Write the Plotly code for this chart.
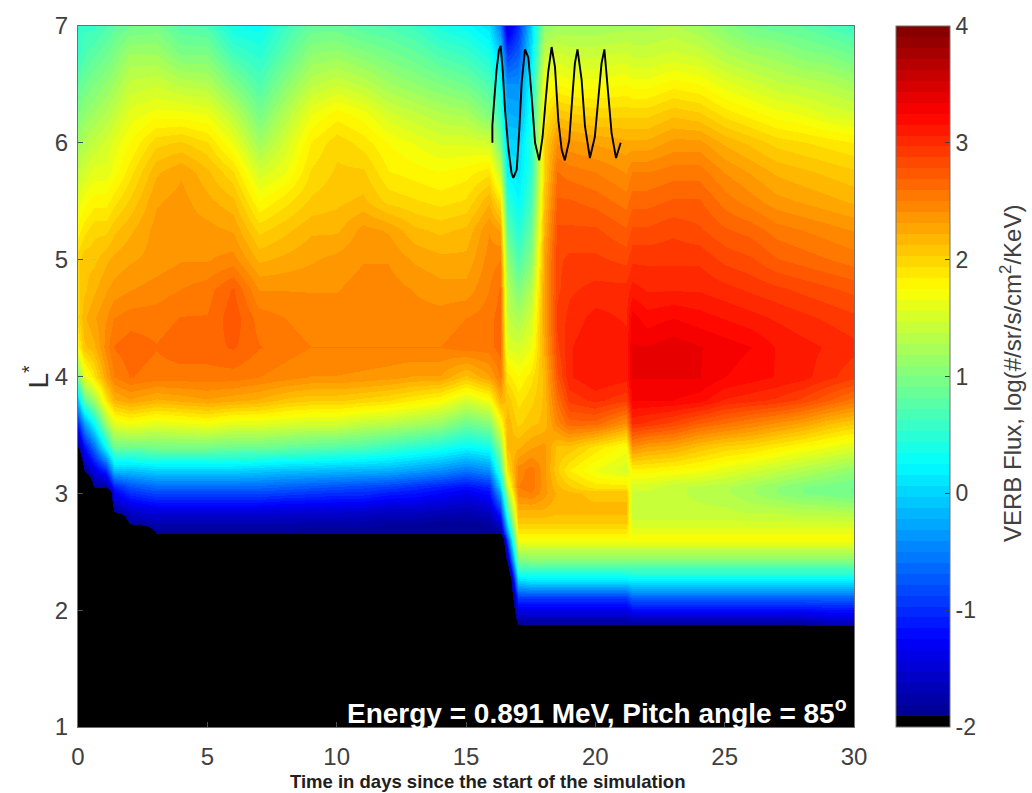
import plotly.graph_objects as go

N = -3.0  # no data (drawn black)
L_STAR = [1.0,1.8,1.88,1.95,2.1,2.25,2.42,2.6,2.66,2.75,2.85,3.0,3.05,3.2,
          3.4,3.6,3.8,4.0,4.25,4.5,4.75,5.0,5.25,5.5,5.75,6.0,6.25,6.5,6.75,7.0]

FLUX_BY_DAY = {
 0.0:  [N,N,N,N,N,N,N,N,N,N,N,N,N,N, -1.9,-1.0,0.0,1.0,1.8,2.0,2.0,2.0,1.8,1.6,1.4,1.2,1.0,0.8,0.6,0.5],
 0.25: [N,N,N,N,N,N,N,N,N,N,N,N,N,-1.88, -1.2,-0.3,0.8,1.6,2.1,2.2,2.1,2.1,1.9,1.7,1.5,1.3,1.1,0.9,0.7,0.6],
 0.6:  [N,N,N,N,N,N,N,N,N,N,N,N,-1.85,-1.4, -0.6,0.3,1.2,1.9,2.2,2.3,2.2,2.1,2.0,1.8,1.6,1.4,1.2,1.0,0.8,0.6],
 1.1:  [N,N,N,N,N,N,N,N,N,N,N,N,-1.85,-1.0, 0.3,1.2,1.9,2.3,2.45,2.4,2.3,2.2,2.0,1.8,1.6,1.5,1.3,1.1,0.9,0.7],
 1.4:  [N,N,N,N,N,N,N,N,N,N,-1.85,-1.3,-1.1,-0.1, 0.9,1.6,2.2,2.5,2.6,2.5,2.35,2.25,2.1,1.9,1.7,1.6,1.4,1.2,1.0,0.8],
 2.0:  [N,N,N,N,N,N,N,N,N,-1.8,-1.55,-1.0,-0.8,-0.1, 0.9,1.7,2.3,2.6,2.65,2.55,2.4,2.3,2.2,2.05,1.9,1.75,1.6,1.4,1.2,0.9],
 3.0:  [N,N,N,N,N,N,N,N,-1.9,-1.7,-1.45,-0.85,-0.65,0.0, 0.95,1.6,2.2,2.55,2.6,2.55,2.45,2.35,2.35,2.3,2.2,2.0,1.7,1.45,1.2,0.95],
 4.0:  [N,N,N,N,N,N,N,N,-1.9,-1.7,-1.45,-0.85,-0.65,0.0, 0.95,1.65,2.25,2.55,2.65,2.6,2.5,2.4,2.35,2.35,2.3,2.05,1.7,1.35,1.0,0.75],
 5.0:  [N,N,N,N,N,N,N,N,-1.9,-1.7,-1.45,-0.85,-0.65,0.0, 0.95,1.7,2.3,2.55,2.65,2.6,2.55,2.4,2.35,2.25,2.15,1.95,1.65,1.3,1.0,0.7],
 6.0:  [N,N,N,N,N,N,N,N,-1.9,-1.7,-1.45,-0.85,-0.65,0.0, 0.9,1.6,2.25,2.55,2.7,2.75,2.7,2.45,2.3,2.15,1.95,1.65,1.35,1.0,0.65,0.35],
 7.0:  [N,N,N,N,N,N,N,N,-1.9,-1.7,-1.45,-0.85,-0.65,-0.05, 0.9,1.6,2.2,2.5,2.6,2.55,2.4,2.2,2.0,1.75,1.5,1.2,0.95,0.7,0.5,0.3],
 8.0:  [N,N,N,N,N,N,N,N,-1.9,-1.7,-1.5,-0.9,-0.7,-0.1, 0.85,1.55,2.1,2.45,2.55,2.5,2.4,2.25,2.1,1.9,1.65,1.5,1.3,1.05,0.8,0.6],
 9.0:  [N,N,N,N,N,N,N,N,-1.9,-1.75,-1.5,-0.95,-0.75,-0.12, 0.8,1.5,2.05,2.4,2.5,2.45,2.4,2.3,2.2,2.05,1.95,1.85,1.65,1.35,1.1,0.85],
 10.0: [N,N,N,N,N,N,N,N,-1.9,-1.75,-1.5,-1.0,-0.8,-0.15, 0.75,1.5,2.05,2.4,2.5,2.45,2.4,2.35,2.2,2.1,2.05,2.0,1.8,1.45,1.15,0.85],
 11.0: [N,N,N,N,N,N,N,N,-1.9,-1.75,-1.55,-1.0,-0.85,-0.18, 0.7,1.4,2.0,2.38,2.5,2.45,2.45,2.4,2.35,2.15,2.05,1.9,1.7,1.35,1.05,0.75],
 12.0: [N,N,N,N,N,N,N,N,-1.9,-1.8,-1.6,-1.1,-0.9,-0.2, 0.6,1.35,1.95,2.35,2.5,2.45,2.45,2.4,2.3,2.0,1.85,1.75,1.5,1.2,0.95,0.7],
 13.0: [N,N,N,N,N,N,N,N,-1.9,-1.8,-1.6,-1.15,-1.0,-0.3, 0.5,1.25,1.85,2.3,2.5,2.45,2.4,2.3,2.15,1.95,1.8,1.65,1.4,1.1,0.85,0.6],
 14.0: [N,N,N,N,N,N,N,N,-1.9,-1.85,-1.65,-1.25,-1.1,-0.4, 0.4,1.15,1.75,2.3,2.5,2.45,2.35,2.25,2.1,1.9,1.75,1.55,1.3,1.0,0.7,0.4],
 15.0: [N,N,N,N,N,N,N,N,-1.9,-1.85,-1.7,-1.35,-1.2,-0.55, 0.25,0.9,1.5,2.1,2.55,2.5,2.35,2.25,2.15,1.95,1.8,1.55,1.25,0.9,0.6,0.3],
 15.9: [N,N,N,N,N,N,N,N,-1.9,-1.8,-1.6,-1.2,-1.05,-0.4, 0.35,1.05,1.7,2.3,2.55,2.55,2.5,2.45,2.4,2.2,1.9,1.5,1.0,0.7,0.4,0.1],
 16.3: [N,N,N,N,N,N,N,N,-1.9,-1.5,-1.0,-0.3,0.0,0.6, 1.1,1.7,2.2,2.5,2.65,2.65,2.6,2.5,2.3,1.9,1.4,0.9,0.55,0.3,0.0,-0.5],
 16.6: [N,N,N,N,N,N,-1.85,-0.9,-0.4,0.1,0.6,1.2,1.5,1.9, 2.15,2.2,2.1,1.9,1.55,1.4,1.3,1.1,0.8,0.5,0.2,0.0,-0.2,-0.4,-0.9,-1.5],
 17.0: [N,N,-1.85,-1.6,-0.95,0.0,0.95,1.7,1.85,2.05,2.2,2.45,2.5,2.45, 2.2,2.0,1.9,1.75,1.5,1.25,1.0,0.7,0.45,0.25,0.1,0.0,-0.25,-0.4,-0.7,-1.0],
 17.5: [N,N,-1.85,-1.6,-0.95,0.1,1.0,1.7,1.85,2.05,2.2,2.5,2.55,2.55, 2.3,2.1,2.0,1.9,1.65,1.5,1.3,1.05,0.85,0.65,0.5,0.5,0.4,0.3,0.1,0.0],
 18.0: [N,N,-1.85,-1.6,-0.95,0.1,1.0,1.7,1.85,2.05,2.2,2.35,2.35,2.35, 2.35,2.15,2.15,2.15,2.25,2.3,2.3,2.3,2.2,2.1,2.0,2.0,1.85,1.7,1.4,1.1],
 18.5: [N,N,-1.85,-1.6,-0.95,0.1,1.0,1.7,1.85,2.05,2.15,2.2,2.15,2.05, 2.1,2.45,2.6,2.75,2.85,2.9,2.85,2.85,2.8,2.7,2.6,2.4,2.1,1.75,1.5,1.2],
 19.0: [N,N,-1.85,-1.6,-0.95,0.1,1.0,1.7,1.85,2.05,2.15,2.15,2.05,1.85, 2.1,2.65,2.9,3.05,3.05,3.0,2.95,2.9,2.8,2.7,2.55,2.35,2.05,1.7,1.45,1.2],
 20.0: [N,N,-1.85,-1.6,-0.95,0.1,1.0,1.7,1.85,2.05,2.15,2.1,1.9,1.65, 1.9,2.65,3.0,3.15,3.15,3.1,3.0,2.9,2.8,2.65,2.5,2.3,2.0,1.7,1.45,1.2],
 21.2: [N,N,-1.85,-1.6,-0.95,0.1,1.0,1.7,1.85,2.05,2.15,2.1,1.9,1.5, 1.7,2.4,2.9,3.1,3.1,3.05,3.0,2.85,2.7,2.55,2.4,2.25,2.0,1.75,1.5,1.25],
 21.4: [N,N,-1.85,-1.5,-0.7,0.15,1.0,1.7,1.65,1.5,1.4,1.45,1.5,1.8, 2.4,3.0,3.25,3.35,3.35,3.3,3.1,2.95,2.8,2.65,2.5,2.25,2.0,1.7,1.45,1.25],
 22.0: [N,N,-1.85,-1.5,-0.7,0.15,1.0,1.7,1.65,1.5,1.4,1.45,1.5,1.8, 2.3,2.95,3.25,3.35,3.35,3.2,3.05,2.95,2.8,2.65,2.5,2.25,2.0,1.7,1.45,1.25],
 23.0: [N,N,-1.85,-1.5,-0.7,0.15,1.0,1.7,1.65,1.5,1.4,1.4,1.4,1.75, 2.25,2.85,3.25,3.35,3.4,3.25,3.05,2.95,2.85,2.7,2.55,2.35,2.1,1.8,1.5,1.3],
 24.0: [N,N,-1.85,-1.5,-0.7,0.15,1.0,1.7,1.65,1.5,1.4,1.35,1.35,1.7, 2.1,2.7,3.2,3.35,3.35,3.2,3.05,2.95,2.8,2.7,2.55,2.35,2.05,1.75,1.45,1.2],
 25.0: [N,N,-1.85,-1.5,-0.7,0.15,1.0,1.7,1.65,1.5,1.4,1.3,1.3,1.6, 2.0,2.6,3.05,3.25,3.3,3.15,3.0,2.85,2.7,2.55,2.4,2.2,1.9,1.6,1.3,1.05],
 26.0: [N,N,-1.85,-1.5,-0.7,0.15,1.0,1.7,1.65,1.5,1.35,1.2,1.2,1.5, 1.95,2.5,3.0,3.2,3.25,3.1,2.95,2.8,2.65,2.45,2.3,2.1,1.8,1.5,1.2,0.9],
 27.0: [N,N,-1.85,-1.5,-0.7,0.15,1.0,1.7,1.65,1.5,1.35,1.1,1.1,1.4, 1.85,2.4,2.95,3.15,3.15,3.05,2.9,2.7,2.55,2.35,2.2,2.0,1.7,1.4,1.15,0.85],
 28.0: [N,N,-1.8,-1.5,-0.7,0.15,1.0,1.7,1.65,1.5,1.3,1.0,1.0,1.3, 1.75,2.3,2.85,3.1,3.1,3.0,2.85,2.65,2.5,2.3,2.15,1.95,1.65,1.35,1.05,0.8],
 29.0: [N,N,-1.7,-1.4,-0.7,0.15,1.0,1.7,1.65,1.5,1.3,0.95,0.95,1.2, 1.65,2.15,2.7,3.0,3.05,2.95,2.8,2.6,2.45,2.25,2.1,1.9,1.55,1.3,1.0,0.7],
 30.0: [N,N,-1.7,-1.4,-0.7,0.15,1.0,1.7,1.65,1.5,1.25,0.9,0.9,1.1, 1.55,2.05,2.55,2.9,3.0,2.9,2.75,2.55,2.4,2.2,2.05,1.85,1.5,1.2,0.9,0.6],
}

ORBIT_DAY = [16.02,16.02,16.09,16.18,16.27,16.34,16.42,16.51,16.63,16.76,16.83,16.96,17.06,17.15,17.28,17.41,
             17.54,17.67,17.83,17.96,18.09,18.18,18.31,18.44,18.57,18.70,18.82,18.99,19.12,19.21,19.31,19.47,
             19.60,19.79,19.98,20.11,20.24,20.35,20.50,20.63,20.80,20.98]
ORBIT_L = [6.00,6.15,6.36,6.62,6.79,6.83,6.62,6.28,5.97,5.74,5.70,5.77,6.11,6.51,6.80,6.73,
           6.39,6.00,5.85,6.05,6.39,6.61,6.82,6.65,6.19,5.94,5.85,6.02,6.42,6.68,6.80,6.54,
           6.14,5.87,6.05,6.36,6.68,6.80,6.42,6.08,5.87,6.00]

X_TICKS = [0, 5, 10, 15, 20, 25, 30]
Y_TICKS = [1, 2, 3, 4, 5, 6, 7]
CB_TICKS = [-2, -1, 0, 1, 2, 3, 4]
CB_LABELS = ["-2", "-1", "0", "1", "2", "3", "4"]

days = list(FLUX_BY_DAY.keys())
for d, col in FLUX_BY_DAY.items():
    assert len(col) == len(L_STAR), d
z = [list(r) for r in zip(*FLUX_BY_DAY.values())]


def jet(t):
    def f(c):
        return max(0.0, min(1.0, 1.5 - abs(4 * t - c)))
    return f"rgb({round(255*f(3))},{round(255*f(2))},{round(255*f(1))})"


STEPS = 64
scale = []
for i in range(STEPS):
    col = "rgb(0,0,0)" if i == 0 else jet((i + 0.5) / STEPS)
    scale.append([i / STEPS, col])
    scale.append([(i + 1) / STEPS, col])

TXT = "#404040"
FONT = "Liberation Sans"
fig = go.Figure()
fig.add_trace(go.Heatmap(
    x=days, y=L_STAR, z=z, zmin=-2, zmax=4, zsmooth="best", colorscale=scale,
    hoverinfo="skip",
    colorbar=dict(x=(896 - 78) / 776, xanchor="left", y=0, yanchor="bottom", len=1, lenmode="fraction",
                  thickness=54, thicknessmode="pixels", outlinecolor="#707070", outlinewidth=1,
                  tickmode="array", tickvals=CB_TICKS, ticktext=CB_LABELS, ticks="inside", ticklen=5,
                  tickcolor="#404040", tickfont=dict(family=FONT, size=23, color=TXT), xpad=0, ypad=0),
))
fig.add_trace(go.Scatter(x=ORBIT_DAY, y=ORBIT_L, mode="lines", line=dict(color="black", width=1.9),
                         hoverinfo="skip", showlegend=False))

axis = dict(ticks="inside", ticklen=5, tickcolor="#505050", showline=True, linecolor="#707070", linewidth=1,
            mirror=True, showgrid=False, zeroline=False, tickfont=dict(family=FONT, size=24, color=TXT))
fig.update_layout(
    width=1032, height=793, autosize=False, paper_bgcolor="white", plot_bgcolor="black",
    margin=dict(l=78, r=178, t=22, b=66), showlegend=False,
    xaxis=dict(axis, range=[0, 30], tickmode="array", tickvals=X_TICKS, ticklabelstandoff=8),
    yaxis=dict(axis, range=[1, 7], tickmode="array", tickvals=Y_TICKS, ticklabelstandoff=4),
    annotations=[
        dict(text="L<sup>*</sup>", xref="paper", yref="paper", x=-62 / 776, y=0.5, textangle=-90,
             showarrow=False, font=dict(family=FONT, size=28, color="#303030")),
        dict(text="<b>Time in days since the start of the simulation</b>", xref="paper", yref="paper",
             x=409 / 776, y=-67 / 705, showarrow=False, font=dict(family=FONT, size=18.5, color="#202020")),
        dict(text="VERB Flux, log(#/sr/s/cm<sup>2</sup>/KeV)", xref="paper", yref="paper",
             x=950 / 776, y=(727 - 372) / 705, textangle=-90, showarrow=False,
             font=dict(family=FONT, size=24, color=TXT)),
        dict(text="<b>Energy = 0.891 MeV, Pitch angle = 85<sup>o</sup></b>", xref="x", yref="y", x=29.8, y=1.14,
             xanchor="right", showarrow=False, font=dict(family=FONT, size=28, color="white")),
    ],
)
fig.write_html("out.html", config=dict(displayModeBar=False),
               post_script="document.body.style.margin='0';document.body.style.overflow='hidden';")
